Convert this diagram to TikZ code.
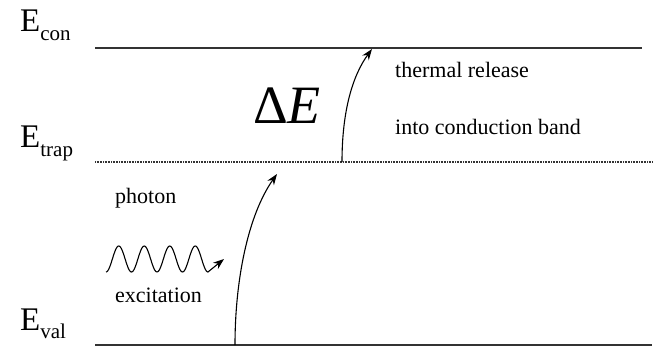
\documentclass[tikz,border=0pt]{standalone}
\usepackage{fontspec}
\setmainfont{Liberation Serif}
\usetikzlibrary{arrows.meta}
\tikzset{
  level/.style={line width=1.1pt, draw=black!80},
  traplevel/.style={line width=1.1pt, draw=black!80, dash pattern=on 1pt off 0.6pt},
  elabel/.style={anchor=base west, inner sep=0pt, font=\fontsize{33}{36}\selectfont},
  txt/.style={anchor=base west, inner sep=0pt, font=\fontsize{22}{24}\selectfont},
  transition/.style={line width=1.1pt, -{Stealth[length=11pt,width=8pt]}},
}
\begin{document}
\begin{tikzpicture}[x=1pt,y=-1pt]
\useasboundingbox (0,0) rectangle (656,350);
% energy levels
\coordinate (conL) at (95,48);  \coordinate (conR) at (642,48);
\coordinate (trapL) at (95,162); \coordinate (trapR) at (652,162);
\coordinate (valL) at (95,345); \coordinate (valR) at (652,345);
\draw[level] (conL) -- (conR);
\draw[traplevel] (trapL) -- (trapR);
\draw[level] (valL) -- (valR);
% level labels
\node[elabel] (econ) at (20,32) {E\raisebox{-0.26em}{\fontsize{21}{22}\selectfont con}};
\node[elabel] (etrap) at (20,148) {E\raisebox{-0.26em}{\fontsize{21}{22}\selectfont trap}};
\node[elabel] (eval) at (20,330) {E\raisebox{-0.26em}{\fontsize{21}{22}\selectfont val}};
% delta E
\node[anchor=base west, inner sep=0pt, font=\fontsize{54}{60}\selectfont] (de) at (253,124) {Δ\textit{E}};
% texts
\node[txt] (tr) at (395,78) {thermal release};
\node[txt] (ic) at (395,135) {into conduction band};
\node[txt] (ph) at (115,203) {photon};
\node[txt] (ex) at (115,302) {excitation};
% transitions
\coordinate (a1s) at (235,345); \coordinate (a1e) at (277,174);
\draw[transition] (a1s) .. controls (235,280) and (248,215) .. (a1e);
\coordinate (a2s) at (342,162); \coordinate (a2e) at (372,49);
\draw[transition] (a2s) .. controls (342,110) and (353,75) .. (a2e);
% photon wave
\coordinate (wt) at (224,259);
\draw[line width=1.1pt, -{Stealth[length=11pt,width=8pt]}]
  plot[domain=0:4, samples=120, smooth] ({106+25.5*\x},{259+13*cos(360*\x)}) -- (wt);
\end{tikzpicture}
\end{document}
